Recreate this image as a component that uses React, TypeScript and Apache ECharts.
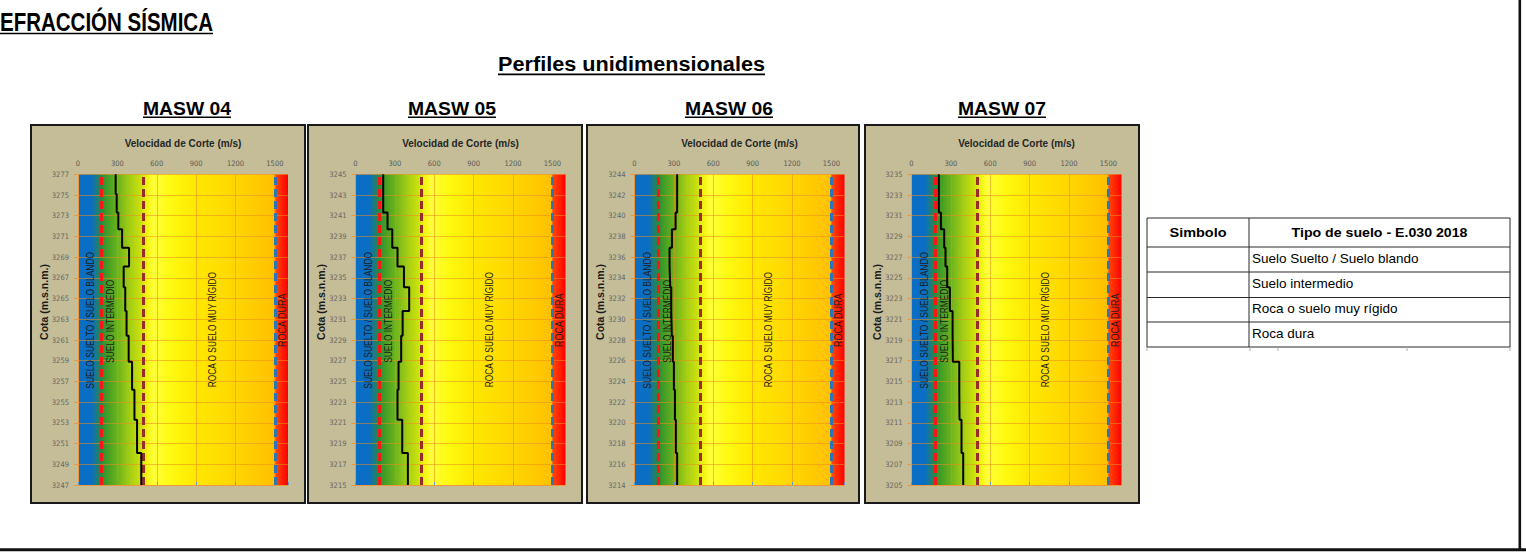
import React, { useEffect, useRef } from "react";
import * as echarts from "echarts";

// ---------------- DATA ----------------
const panelTitles = ["MASW 04", "MASW 05", "MASW 06", "MASW 07"];

// Layer boundaries (elevation, m.s.n.m.), from top to bottom, and shear-wave velocity of each layer (m/s)
const masw04Elev = [3277, 3275.1, 3273.3, 3271.7, 3269.9, 3268.1, 3266.1, 3263.8, 3261.4, 3258.9, 3256.2, 3253.3, 3250.1, 3247];
const masw04Vs = [287, 295, 307, 336, 389, 348, 360, 370, 386, 412, 430, 450, 482];

const masw05Elev = [3245, 3241.3, 3239.7, 3237.9, 3236.1, 3234.1, 3231.8, 3229.4, 3226.9, 3224.2, 3221.3, 3218.1, 3215];
const masw05Vs = [211, 244, 280, 320, 369, 409, 359, 348, 328, 320, 356, 399];

const masw06Elev = [3244, 3240.3, 3238.7, 3236.9, 3235.1, 3233.1, 3230.8, 3228.4, 3225.9, 3223.2, 3220.3, 3217.1, 3214];
const masw06Vs = [325, 313, 285, 267, 272, 280, 284, 292, 300, 308, 315, 325];

const masw07Elev = [3235, 3231.3, 3229.7, 3227.9, 3226.1, 3224.1, 3221.8, 3219.4, 3216.9, 3214.2, 3211.3, 3208.1, 3205];
const masw07Vs = [208, 224, 249, 259, 272, 292, 313, 315, 364, 366, 381, 394];

// Elevation axis range of each panel (tick every 2 m)
const axisTopElev = [3277, 3245, 3244, 3235];
const axisBottomElev = [3247, 3215, 3214, 3205];
const elevStep = 2;

// Velocity axis
const velocityMax = 1600;
const velocityStep = 300;
const velocityTickLabels = [0, 300, 600, 900, 1200, 1500];

// Soil classification limits (E.030) and zone names
const zoneLimits = [180, 500, 1500];
const zoneNames = ["SUELO SUELTO / SUELO BLANDO", "SUELO INTERMEDIO", "ROCA O SUELO MUY RÍGIDO", "ROCA DURA"];

const tableHeader = ["Simbolo", "Tipo de suelo - E.030 2018"];
const tableRows = ["Suelo Suelto / Suelo blando", "Suelo intermedio", "Roca o suelo muy rígido", "Roca dura"];

const pageTitle = "EFRACCIÓN SÍSMICA";
const sectionTitle = "Perfiles unidimensionales";
const xAxisName = "Velocidad de Corte (m/s)";
const yAxisName = "Cota (m.s.n.m.)";

// ---------------- LAYOUT / STYLE ----------------
const W = 1526;
const H = 558;
const FONT = "'Liberation Sans', Arial, sans-serif";
const FONT_NARROW = "'Liberation Sans Narrow', 'Arial Narrow', 'DejaVu Sans Condensed', sans-serif";

const PANEL_X = [31, 308, 587, 865];
const PANEL_W = [274, 274, 272, 274];
const PANEL_Y = 125;
const PANEL_H = 378;
const PLOT_X = [78, 355.5, 634.5, 911.5];
const PLOT_Y = 174.3;
const PLOT_W = 210;
const PLOT_H = 310.7;
const TITLE_CX = [187, 452, 729, 1002];

const ZONE_LABEL_X = [100, 250, 1024, 1556];
const ZONE_LABEL_Y = [15.9, 15.8, 15.0, 15.9];
const ZONE_LABEL_LEN = [137, 83, 116, 54];

const GRADIENT_STOPS: [number, string][] = [
  [0, "#0A6FC4"],
  [0.065, "#0A6FC4"],
  [0.11, "#2A8646"],
  [0.135, "#3E9B26"],
  [0.19, "#6DB31C"],
  [0.25, "#A7CF14"],
  [0.3, "#CBE10C"],
  [0.33, "#F5F510"],
  [0.36, "#FFFF3A"],
  [0.44, "#FFFA12"],
  [0.56, "#FFE800"],
  [0.76, "#FFD500"],
  [0.935, "#FFC000"],
  [0.9375, "#FF4A00"],
  [1, "#FF0000"],
];

const BOUNDARY_STYLES = [
  { color: "#FF1414", type: [8, 4], width: 3 },
  { color: "#9A2C2C", type: [8, 4], width: 3 },
  { color: "#2E75B6", type: [8, 4], width: 3 },
];

const ORANGE = "#F0963C";
const GRID_LINE = "rgba(236,140,30,0.55)";

const profiles = [
  { elev: masw04Elev, vs: masw04Vs },
  { elev: masw05Elev, vs: masw05Vs },
  { elev: masw06Elev, vs: masw06Vs },
  { elev: masw07Elev, vs: masw07Vs },
];

let measureCtx: CanvasRenderingContext2D | null = null;
function measure(text: string, font: string): number {
  if (!measureCtx) measureCtx = document.createElement("canvas").getContext("2d");
  if (!measureCtx) return text.length * 8;
  measureCtx.font = font;
  return measureCtx.measureText(text).width || text.length * 8;
}

function fitText(text: string, x: number, y: number, size: number, targetW: number, align: "left" | "center", bold: boolean) {
  const w = measure(text, `${bold ? "bold " : ""}${size}px ${FONT}`);
  return {
    type: "text",
    x,
    y,
    scaleX: targetW / w,
    style: {
      text,
      fill: "#000",
      fontSize: size,
      fontWeight: bold ? "bold" : "normal",
      fontFamily: FONT,
      align,
      verticalAlign: "middle",
    },
  };
}

function titleText(text: string, cx: number, cy: number, size: number, targetW: number, align: "left" | "center") {
  const left = align === "left" ? cx : cx - targetW / 2;
  return [
    fitText(text, cx, cy, size, targetW, align, true),
    {
      type: "rect",
      shape: { x: left, y: cy + size * 0.43, width: targetW, height: 1.6 },
      style: { fill: "#000" },
    },
  ];
}

function buildOption() {
  const grids: any[] = [];
  const xAxes: any[] = [];
  const yAxes: any[] = [];
  const series: any[] = [];
  const graphics: any[] = [];

  // page frame
  graphics.push({ type: "rect", shape: { x: 1518.5, y: 0, width: 2.6, height: 551 }, style: { fill: "#111" } });
  graphics.push({ type: "rect", shape: { x: 0, y: 548.3, width: W, height: 3 }, style: { fill: "#111" } });

  graphics.push(...titleText(pageTitle, 0, 22, 25, 213, "left"));
  graphics.push(...titleText(sectionTitle, 631.5, 64.5, 21, 267, "center"));

  const zoneScale = ZONE_LABEL_LEN.map((len, k) => len / measure(zoneNames[k], `10px ${FONT}`));

  profiles.forEach((p, i) => {
    const base = axisBottomElev[i];
    const span = axisTopElev[i] - base;

    graphics.push({
      type: "rect",
      z: -10,
      shape: { x: PANEL_X[i], y: PANEL_Y, width: PANEL_W[i], height: PANEL_H },
      style: { fill: "#C4BD97", stroke: "#1A1A1A", lineWidth: 2 },
    });
    graphics.push(...titleText(panelTitles[i], TITLE_CX[i], 108.5, 18.5, 88, "center"));
    graphics.push({
      type: "text",
      x: PLOT_X[i] - 34.5,
      y: 302,
      rotation: Math.PI / 2,
      style: { text: yAxisName, fill: "#1A1A1A", fontSize: 10.5, fontWeight: "bold", fontFamily: FONT, align: "center", verticalAlign: "middle" },
    });

    grids.push({
      left: PLOT_X[i],
      top: PLOT_Y,
      width: PLOT_W,
      height: PLOT_H,
      show: true,
      borderWidth: 0,
      backgroundColor: new echarts.graphic.LinearGradient(
        0, 0, 1, 0,
        GRADIENT_STOPS.map(([offset, color]) => ({ offset, color }))
      ),
    });

    xAxes.push({
      gridIndex: i,
      type: "value",
      position: "top",
      min: 0,
      max: velocityMax,
      interval: velocityStep,
      name: xAxisName,
      nameLocation: "middle",
      nameGap: 26,
      nameTextStyle: { fontFamily: FONT, fontWeight: "bold", fontSize: 10, color: "#262626" },
      axisLine: { show: true, lineStyle: { color: ORANGE, width: 1 } },
      axisTick: { show: true, length: 3, lineStyle: { color: "#5B9BD5", width: 1 } },
      axisLabel: {
        fontFamily: FONT_NARROW,
        fontSize: 7.5,
        color: "#595959",
        margin: 7,
        formatter: (v: number) => (velocityTickLabels.includes(v) ? String(v) : ""),
      },
      splitLine: { show: true, showMaxLine: false, lineStyle: { color: GRID_LINE, width: 1 } },
    });

    yAxes.push({
      gridIndex: i,
      type: "value",
      min: 0,
      max: span,
      interval: elevStep,
      axisLine: { show: true, lineStyle: { color: ORANGE, width: 1 } },
      axisTick: { show: true, length: 4, lineStyle: { color: ORANGE } },
      axisLabel: {
        fontFamily: FONT_NARROW,
        fontSize: 7.5,
        color: "#666666",
        margin: 9,
        formatter: (v: number) => String(base + v),
      },
      splitLine: { show: true, lineStyle: { color: GRID_LINE, width: 1 } },
    });

    const pts: number[][] = [];
    p.vs.forEach((v, k) => {
      pts.push([v, p.elev[k] - base]);
      pts.push([v, p.elev[k + 1] - base]);
    });

    series.push({
      type: "custom",
      xAxisIndex: i,
      yAxisIndex: i,
      z: 3,
      silent: true,
      data: ZONE_LABEL_X.map((x, k) => [x, ZONE_LABEL_Y[k]]),
      renderItem: (params: any, api: any) => {
        const c = api.coord([api.value(0), api.value(1)]);
        return {
          type: "text",
          x: c[0],
          y: c[1],
          rotation: Math.PI / 2,
          scaleX: zoneScale[params.dataIndex],
          style: {
            text: zoneNames[params.dataIndex],
            fill: "#1C1C1C",
            fontSize: 10,
            fontFamily: FONT,
            align: "center",
            verticalAlign: "middle",
          },
        };
      },
    });

    series.push({
      type: "line",
      xAxisIndex: i,
      yAxisIndex: i,
      data: pts,
      showSymbol: false,
      symbol: "none",
      z: 5,
      lineStyle: { color: "#000", width: 2 },
      markLine: {
        silent: true,
        symbol: ["none", "none"],
        label: { show: false },
        data: zoneLimits.map((v, k) => ({ xAxis: v, lineStyle: BOUNDARY_STYLES[k] })),
      },
    });
  });

  // table
  const TX = 1147, TC = 1249, TR = 1510, TY = 218;
  const rowLines = [247, 272, 297.5, 322, 347];
  graphics.push({
    type: "rect",
    shape: { x: TX, y: TY, width: TR - TX, height: rowLines[rowLines.length - 1] - TY },
    style: { fill: "#fff", stroke: "#2A2A2A", lineWidth: 1 },
  });
  graphics.push({ type: "line", shape: { x1: TC, y1: TY, x2: TC, y2: 347 }, style: { stroke: "#2A2A2A", lineWidth: 1 } });
  rowLines.slice(0, -1).forEach((y) => {
    graphics.push({ type: "line", shape: { x1: TX, y1: y, x2: TR, y2: y }, style: { stroke: "#2A2A2A", lineWidth: 1 } });
  });
  [1147, 1250, 1278, 1407, 1510].forEach((x) => {
    graphics.push({ type: "line", shape: { x1: x, y1: 347, x2: x, y2: 351 }, style: { stroke: "#AAAAAA", lineWidth: 1 } });
  });
  graphics.push(fitText(tableHeader[0], (TX + TC) / 2, 232.5, 13, 57, "center", true));
  graphics.push(fitText(tableHeader[1], (TC + TR) / 2, 232.5, 13, 176, "center", true));
  tableRows.forEach((t, k) => {
    const yc = (rowLines[k] + rowLines[k + 1]) / 2 - 1.5;
    graphics.push({
      type: "text",
      x: TC + 3,
      y: yc,
      style: { text: t, fill: "#000", fontSize: 13.5, fontFamily: FONT, align: "left", verticalAlign: "middle" },
    });
  });

  return {
    animation: false,
    backgroundColor: "#fff",
    grid: grids,
    xAxis: xAxes,
    yAxis: yAxes,
    series,
    graphic: { elements: graphics },
  };
}

export default function App() {
  const ref = useRef<HTMLDivElement>(null);
  useEffect(() => {
    if (!ref.current) return;
    const chart = echarts.init(ref.current, null, { renderer: "svg" });
    chart.setOption(buildOption() as any);
    return () => chart.dispose();
  }, []);
  return (
    <div
      ref={ref}
      style={{ position: "absolute", left: 0, top: 0, width: W, height: H, background: "#fff" }}
    />
  );
}
